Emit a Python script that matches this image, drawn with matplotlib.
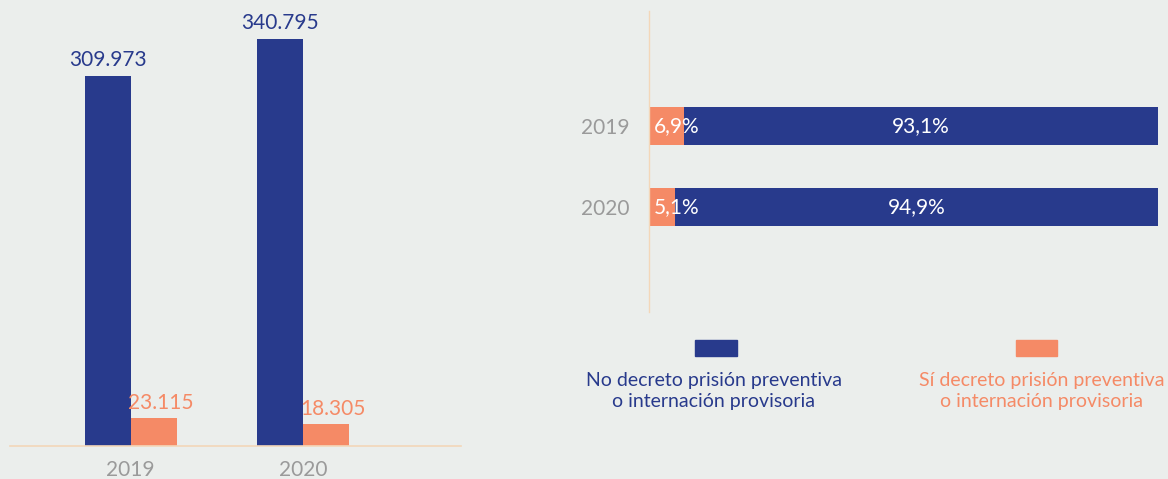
import matplotlib
matplotlib.use("Agg")
import matplotlib.pyplot as plt
from matplotlib.patches import Rectangle

# Colours
NAVY = '#283a8c'
ORANGE = '#f58a66'
BG = '#ebeeec'
GRAY = '#9a9a9a'
LINE = '#f3d7b9'

# Left chart: absolute counts
years = ['2019', '2020']
no_decreto = [309973, 340795]
si_decreto = [23115, 18305]

# Right chart: percentages
pct_no = [93.1, 94.9]
pct_si = [6.9, 5.1]

legend_no = 'No decreto prisión preventiva\no internación provisoria'
legend_si = 'Sí decreto prisión preventiva\no internación provisoria'

plt.rcParams['font.family'] = ['Lato', 'DejaVu Sans']

W, H = 1168, 479
fig = plt.figure(figsize=(W / 100, H / 100), dpi=100, facecolor=BG)


def px_axes(left, top, right, bottom):
    # helper: place an axes using pixel coordinates of the picture
    return fig.add_axes([left / W, 1 - bottom / H, (right - left) / W, (bottom - top) / H])


def thousands(v):
    return '{:,}'.format(v).replace(',', '.')


def pct(v):
    return '{:.1f}%'.format(v).replace('.', ',')


# ---- left: grouped vertical bars
ax = px_axes(10, 0, 461, 446)
ax.set_facecolor(BG)
w = 0.267
xs = range(len(years))
b1 = ax.bar([x - w / 2 for x in xs], no_decreto, w, color=NAVY)
b2 = ax.bar([x + w / 2 for x in xs], si_decreto, w, color=ORANGE)
for r, v in zip(b1, no_decreto):
    ax.annotate(thousands(v), (r.get_x() + r.get_width() / 2, r.get_height()),
                xytext=(0, 4), textcoords='offset points', ha='center', va='bottom',
                color=NAVY, fontsize=15)
for r, v in zip(b2, si_decreto):
    ax.annotate(thousands(v), (r.get_x() + r.get_width() / 2, r.get_height()),
                xytext=(5, 4), textcoords='offset points', ha='center', va='bottom',
                color=ORANGE, fontsize=15)
ax.set_xlim(-0.699, 1.916)
ax.set_ylim(0, 340795 * 446 / 407)
ax.set_xticks(list(xs))
ax.set_xticklabels(years, color=GRAY, fontsize=15)
ax.tick_params(axis='x', length=0, pad=10)
ax.set_yticks([])
for s in ('top', 'right', 'left'):
    ax.spines[s].set_visible(False)
ax.spines['bottom'].set_color(LINE)
ax.spines['bottom'].set_linewidth(1.2)

# ---- right: stacked horizontal 100% bars
ax2 = px_axes(649, 11, 1158, 312)
ax2.set_facecolor(BG)
ys = range(len(years))
h = 0.475
ax2.barh(list(ys), pct_si, h, color=ORANGE)
ax2.barh(list(ys), pct_no, h, left=pct_si, color=NAVY)
for y, a, b in zip(ys, pct_si, pct_no):
    ax2.text(1.0, y, pct(a), ha='left', va='center', color='white', fontsize=15)
    ax2.text(a + b / 2, y, pct(b), ha='center', va='center', color='white', fontsize=15)
ax2.set_xlim(0, 100)
ax2.set_ylim(2.3125, -1.4375)
ax2.set_yticks(list(ys))
ax2.set_yticklabels(years, color=GRAY, fontsize=15)
ax2.tick_params(axis='y', length=0, pad=14)
ax2.set_xticks([])
for s in ('top', 'right', 'bottom'):
    ax2.spines[s].set_visible(False)
ax2.spines['left'].set_color(LINE)
ax2.spines['left'].set_linewidth(1.0)

# ---- legend, drawn in figure pixels
for (x0, x1, cx), col, txt in [((695, 737, 714), NAVY, legend_no),
                               ((1016, 1057, 1042), ORANGE, legend_si)]:
    fig.patches.append(Rectangle((x0 / W, 1 - 356 / H), (x1 - x0) / W, 16 / H,
                                 transform=fig.transFigure, color=col))
    fig.text(cx / W, 1 - 391 / H, txt, ha='center', va='center', color=col,
             fontsize=14, linespacing=1.25)

fig.savefig('out.png', dpi=100, facecolor=BG)
